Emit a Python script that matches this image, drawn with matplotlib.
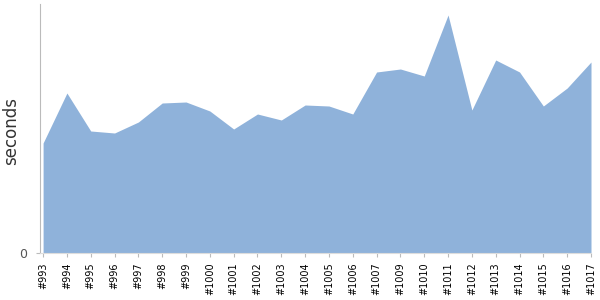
import matplotlib
matplotlib.use("Agg")
import matplotlib.pyplot as plt
import numpy as np

# build labels and measured durations (seconds)
builds = ['#993', '#994', '#995', '#996', '#997', '#998', '#999', '#1000',
          '#1001', '#1002', '#1003', '#1004', '#1005', '#1006', '#1007',
          '#1009', '#1010', '#1011', '#1012', '#1013', '#1014', '#1015',
          '#1016', '#1017']
durations = [11.0, 16.0, 12.2, 12.0, 13.1, 15.0, 15.1, 14.2, 12.4, 13.9,
             13.3, 14.8, 14.7, 13.9, 18.1, 18.4, 17.7, 23.8, 14.3, 19.3,
             18.1, 14.7, 16.5, 19.1]

fig = plt.figure(figsize=(6, 3), dpi=100)
ax = fig.add_axes([40 / 600, 47 / 300, 551 / 600, 249 / 300])

x = np.arange(len(builds))
ax.fill_between(x, 0, durations, color='#8fb2da', linewidth=0)

ax.set_xlim(-0.13, len(builds) - 1)
ax.set_ylim(0, 24.9)

ax.set_yticks([0])
ax.set_yticklabels(['0'], fontsize=9, color='#555555')
ax.set_xticks(x)
ax.set_xticklabels(builds, rotation=90, fontsize=7, color='black')
ax.tick_params(axis='x', length=3, color='#bbbbbb', pad=4)
ax.tick_params(axis='y', length=3, color='#bbbbbb', pad=6)

for side in ['top', 'right']:
    ax.spines[side].set_visible(False)
ax.spines['left'].set_color('#bbbbbb')
ax.spines['bottom'].set_color('#dddddd')

ax.set_ylabel('seconds', fontsize=12, color='#333333')
ax.yaxis.set_label_coords(-0.036, 0.49)

fig.savefig('out.png', dpi=100)
